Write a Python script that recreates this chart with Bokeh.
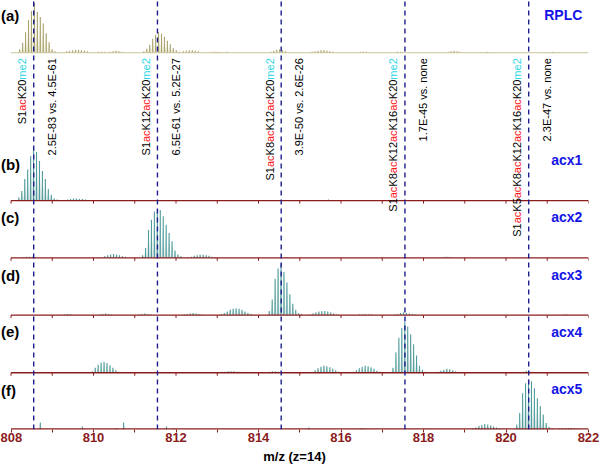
import numpy as np
from bokeh.plotting import figure
from bokeh.models import Range1d, FixedTicker, ColumnDataSource
from bokeh.embed import file_html
from bokeh.resources import INLINE
from bokeh.core.properties import value

# ---------------- data ----------------
ISO = 1.0 / 14.0          # isotope spacing for charge 14

MZ_TICKS = [808, 810, 812, 814, 816, 818, 820, 822]
MZ_MINOR = [809, 811, 813, 815, 817, 819, 821]
MARKER_MZ = [808.55, 811.55, 814.55, 817.55, 820.55]

PANEL_TAGS = ["(a)", "(b)", "(c)", "(d)", "(e)", "(f)"]
PANEL_NAMES = ["RPLC", "acx1", "acx2", "acx3", "acx4", "acx5"]

PVALUES = ["2.5E-83 vs. 4.5E-61", "6.5E-61 vs. 5.2E-27", "3.9E-50 vs. 2.6E-26",
           "1.7E-45 vs. none", "2.3E-47 vs. none"]

PEPTIDES = [
    [("S1", "k"), ("ac", "r"), ("K20", "k"), ("me2", "c")],
    [("S1", "k"), ("ac", "r"), ("K12", "k"), ("ac", "r"), ("K20", "k"), ("me2", "c")],
    [("S1", "k"), ("ac", "r"), ("K8", "k"), ("ac", "r"), ("K12", "k"), ("ac", "r"),
     ("K20", "k"), ("me2", "c")],
    [("S1", "k"), ("ac", "r"), ("K8", "k"), ("ac", "r"), ("K12", "k"), ("ac", "r"),
     ("K16", "k"), ("ac", "r"), ("K20", "k"), ("me2", "c")],
    [("S1", "k"), ("ac", "r"), ("K5", "k"), ("ac", "r"), ("K8", "k"), ("ac", "r"),
     ("K12", "k"), ("ac", "r"), ("K16", "k"), ("ac", "r"), ("K20", "k"), ("me2", "c")],
]

# isotopic envelopes: (first-peak m/z, relative intensities in %)
RPLC = [
    (808.21, [7, 20, 41, 66, 84, 100, 82, 72, 59, 39, 21, 7, 3]),
    (809.35, [3, 4, 5, 6, 6, 5, 4, 3]),
    (810.05, [1, 2, 2, 2, 1]),
    (810.40, [2, 3, 4, 3, 2]),
    (811.22, [3, 8, 16, 28, 36, 41, 38, 32, 24, 17, 9, 5, 2]),
    (812.18, [3, 4, 5, 5, 4, 3]),
    (812.80, [1, 2, 2, 2, 1, 1, 2, 1]),
    (814.30, [2, 4, 6, 7, 5, 3]),
    (815.30, [2, 3, 4, 5, 5, 4, 3, 2]),
    (816.40, [1, 2, 2, 2, 1]),
    (817.30, [1, 2, 2, 1]),
    (818.60, [2, 3, 4, 3, 2]),
    (819.40, [1, 1, 2, 1, 1]),
    (821.00, [1, 1, 2, 1, 1]),
]
ACX1 = [
    (808.19, [6, 18, 41, 59, 84, 100, 92, 75, 56, 41, 22, 11, 4, 2]),
    (809.30, [1, 2, 3, 4, 4, 3, 3, 2, 1]),
    (815.55, [1, 1, 2, 1, 1]),
]
ACX2 = [
    (808.30, [1, 2, 2, 2, 1]),
    (810.20, [1, 3, 5, 7, 8, 7, 5, 3, 2]),
    (811.19, [5, 20, 57, 78, 95, 100, 98, 85, 68, 51, 34, 15, 7, 3]),
    (812.30, [1, 2, 4, 5, 6, 6, 5, 4, 2, 1]),
    (818.45, [1, 2, 2, 1]),
]
ACX3 = [
    (809.30, [1, 2, 1]),
    (810.15, [1, 2, 3, 2, 1]),
    (811.10, [1, 2, 3, 2, 1]),
    (812.20, [1, 2, 3, 4, 3, 2, 1]),
    (813.10, [2, 4, 7, 10, 12, 13, 12, 10, 7, 4, 2]),
    (814.26, [8, 30, 70, 90, 100, 83, 63, 40, 22, 10, 4, 2]),
    (815.25, [1, 3, 5, 7, 8, 8, 7, 5, 3, 1]),
    (816.45, [1, 1, 2, 1, 1]),
    (817.30, [1, 2, 4, 5, 4, 3, 2, 1]),
    (821.40, [1, 1]),
]
ACX4 = [
    (809.00, [1, 1, 1, 1]),
    (809.97, [3, 10, 16, 20, 21, 19, 15, 10, 5, 2]),
    (811.20, [1, 1, 1]),
    (813.05, [1, 2, 2, 3, 3, 3, 2, 2, 1]),
    (814.20, [1, 2, 3, 3, 2, 1]),
    (815.30, [2, 5, 9, 12, 14, 13, 11, 8, 5, 2]),
    (816.30, [2, 5, 9, 12, 14, 13, 11, 8, 4, 2]),
    (817.26, [10, 40, 69, 88, 100, 91, 76, 56, 34, 14, 6, 2]),
    (818.35, [2, 4, 6, 8, 7, 5, 3, 1]),
    (820.35, [1, 2, 4, 3, 2]),
]
ACX5 = [
    (808.71, [14]),
    (809.73, [6]),
    (810.56, [3]),
    (810.73, [14]),
    (811.77, [6]),
    (811.95, [2]),
    (815.22, [4]),
    (816.40, [1, 2, 2, 1]),
    (818.00, [1, 1, 1]),
    (819.20, [2, 4, 7, 9, 11, 10, 8, 6, 4, 2]),
    (820.26, [10, 33, 73, 93, 100, 97, 83, 63, 47, 30, 13, 5, 2]),
    (821.30, [1, 2, 3, 3, 3, 2, 1]),
]
SPECTRA = [RPLC, ACX1, ACX2, ACX3, ACX4, ACX5]

# ---------------- layout / style ----------------
Y_TOP = 431.0
FRAME_H = 429
K = Y_TOP / FRAME_H          # data units per screen pixel (vertical)
X0 = 807.745                 # left edge of frame (page x = 0)
PANEL_BASE = [378.5, 230.0, 172.5, 115.0, 57.0, 0.0]
PANEL_HEIGHT = [50, 53, 49, 52, 51, 50]
TAG_Y = [416, 266, 213, 155, 98, 39]
NAME_Y = [416, 271, 213, 155, 98, 41]
LABEL_TOP = 373.0
PEP_DX = -0.28
PV_DX = 0.44
FS = 11
W = {"S": 0.667, "1": 0.556, "a": 0.556, "c": 0.5, "K": 0.667, "2": 0.556,
     "0": 0.556, "m": 0.833, "e": 0.556, "8": 0.556, "5": 0.556, "6": 0.556}
COL = {"k": "#000000", "r": "#ff1414", "c": "#2ed6e6"}
AXIS_RED = "#8b1c1c"

p = figure(frame_width=588, frame_height=FRAME_H, output_backend="svg",
           toolbar_location=None, x_range=Range1d(X0, 822), y_range=Range1d(0, Y_TOP),
           y_axis_location=None, min_border_left=0, min_border_right=12,
           min_border_top=0, min_border_bottom=37)
p.xgrid.visible = False
p.ygrid.visible = False
p.outline_line_color = None
p.background_fill_color = "white"
p.border_fill_color = "white"

# spectra
for i, envs in enumerate(SPECTRA):
    base = PANEL_BASE[i]
    xs, ys, px, ph = [], [], [], []
    for start, ints in envs:
        for j, v in enumerate(ints):
            x = start + j * ISO
            h = v / 100.0 * PANEL_HEIGHT[i]
            xs.append([x - 0.46 * ISO, x, x + 0.46 * ISO])
            ys.append([base, base + h, base])
            px.append(x)
            ph.append(base + h)
    if i == 0:
        lc, fc = "#a9a36b", "#e2dfc6"
    else:
        lc, fc = "#4f9c9c", "#c6dada"
    p.patches(xs, ys, fill_color=fc, line_color=None)
    p.segment(x0=px, y0=[base] * len(px), x1=px, y1=ph, line_color=lc, line_width=1.1)

# panel (a) baseline
p.segment(x0=[808], y0=[PANEL_BASE[0]], x1=[822], y1=[PANEL_BASE[0]],
          line_color="#c9c59c", line_width=1)
# panel b-e axis lines with ticks
tx = MZ_TICKS + MZ_MINOR
for b in PANEL_BASE[1:5]:
    p.segment(x0=[808], y0=[b], x1=[822], y1=[b], line_color=AXIS_RED, line_width=1.3)
    p.segment(x0=tx, y0=[b] * len(tx), x1=tx, y1=[b - 3 * K] * len(tx),
              line_color=AXIS_RED, line_width=1)
# panel f baseline sits on the frame edge (half of a 2.6 px line is visible)
p.segment(x0=[808], y0=[0], x1=[822], y1=[0], line_color=AXIS_RED, line_width=2.6)

# vertical marker lines
for m in MARKER_MZ:
    p.segment(x0=[m], y0=[0], x1=[m], y1=[Y_TOP], line_color="#1c1c8c",
              line_width=1.4, line_dash="5 4")

# peptide labels (multi-coloured, rotated)
pep = dict(x=[], y=[], text=[], color=[])
for m, pieces in zip(MARKER_MZ, PEPTIDES):
    cum = 0.0
    for txt, c in reversed(pieces):
        pep["x"].append(m + PEP_DX)
        pep["y"].append(LABEL_TOP - cum * K)
        pep["text"].append(txt)
        pep["color"].append(COL[c])
        cum += sum(W[ch] for ch in txt) * FS
p.text(x="x", y="y", text="text", text_color="color", source=ColumnDataSource(pep),
       angle=np.pi / 2, text_align="right", text_baseline="middle",
       text_font=value("Liberation Sans"), text_font_size=value(f"{FS}px"))

p.text(x=[m + PV_DX for m in MARKER_MZ], y=[LABEL_TOP] * 5, text=PVALUES,
       angle=np.pi / 2, text_align="right", text_baseline="middle",
       text_font=value("Liberation Sans"), text_font_size=value(f"{FS}px"),
       text_color="#000000")

# panel tags and names
p.text(x=[X0 + 0.01] * 6, y=TAG_Y, text=PANEL_TAGS, text_align="left",
       text_baseline="middle", text_font=value("Liberation Sans"),
       text_font_style="bold", text_font_size=value("15px"), text_color="black")
p.text(x=[821.85] * 6, y=NAME_Y, text=PANEL_NAMES, text_align="right",
       text_baseline="middle", text_font=value("Liberation Sans"),
       text_font_style="bold", text_font_size=value("14px"), text_color="#1414e6")

# bottom axis (panel f)
ax = p.xaxis[0]
ax.ticker = FixedTicker(ticks=MZ_TICKS, minor_ticks=MZ_MINOR)
ax.axis_line_color = None
ax.major_tick_line_color = AXIS_RED
ax.minor_tick_line_color = AXIS_RED
ax.major_tick_in = 0
ax.major_tick_out = 3
ax.minor_tick_in = 0
ax.minor_tick_out = 3
ax.major_label_standoff = 0
ax.major_label_text_font = "Liberation Sans"
ax.major_label_text_font_style = "bold"
ax.major_label_text_font_size = "13px"
ax.major_label_text_color = AXIS_RED
ax.axis_label = "m/z (z=14)"
ax.axis_label_standoff = 4
ax.axis_label_text_font = "Liberation Sans"
ax.axis_label_text_font_style = "bold"
ax.axis_label_text_font_size = "13px"
ax.axis_label_text_color = "black"

open("out.html", "w").write(file_html(p, INLINE))
